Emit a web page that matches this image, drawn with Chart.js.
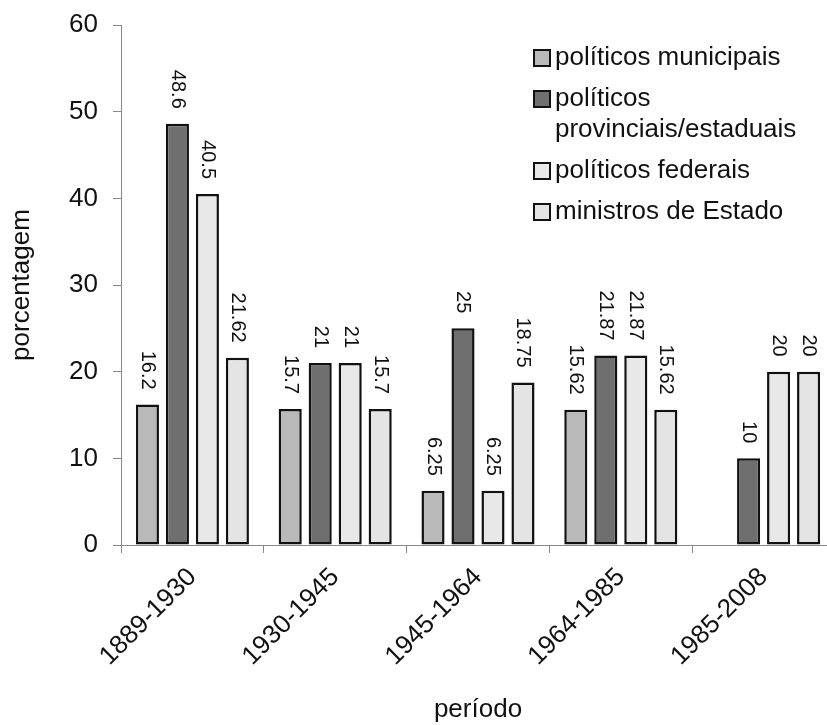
<!DOCTYPE html>
<html>
<head>
<meta charset="utf-8">
<script src="https://cdn.jsdelivr.net/npm/chart.js@4.4.1/dist/chart.umd.min.js"></script>
<style>
  html, body { margin: 0; padding: 0; background: #fff; overflow: hidden; }
  #wrap { width: 850px; height: 725px; }
</style>
</head>
<body>
<div id="wrap"><canvas id="chart" width="850" height="725"></canvas></div>
<script>
// periods on the x axis
const periods = ["1889-1930", "1930-1945", "1945-1964", "1964-1985", "1985-2008"];

// percentages per group of politicians (null = no bar)
const municipais = [16.2, 15.7, 6.25, 15.62, null];
const provinciais = [48.6, 21, 25, 21.87, 10];
const federais = [40.5, 21, 6.25, 21.87, 20];
const ministros = [21.62, 15.7, 18.75, 15.62, 20];

const seriesNames = ["políticos municipais", "políticos provinciais/estaduais", "políticos federais", "ministros de Estado"];
const seriesColors = ["#b9b9b9", "#6f6f6f", "#e8e8e8", "#e4e4e4"];
const yTicks = [0, 10, 20, 30, 40, 50, 60];

Chart.defaults.font.family = "'Liberation Sans', Arial, sans-serif";
Chart.defaults.color = "#000";

const mkSet = (i, data) => ({
  label: seriesNames[i], data, backgroundColor: seriesColors[i],
  borderColor: "#111", borderWidth: 2.5, borderSkipped: false,
  categoryPercentage: 0.84, barPercentage: 0.77
});

// value labels, rotated and read top to bottom
const valueLabels = {
  id: "valueLabels",
  afterDatasetsDraw(chart) {
    const ctx = chart.ctx;
    ctx.save();
    ctx.font = "20px 'Liberation Sans', Arial, sans-serif";
    ctx.fillStyle = "#111";
    ctx.textAlign = "right"; ctx.textBaseline = "middle";
    chart.data.datasets.forEach((ds, di) => {
      chart.getDatasetMeta(di).data.forEach((bar, i) => {
        const v = ds.data[i];
        if (v == null) return;
        ctx.save();
        ctx.translate(bar.x, bar.y - 15);
        ctx.rotate(Math.PI / 2);
        ctx.fillText(String(v), 0, 0);
        ctx.restore();
      });
    });
    ctx.restore();
  }
};

// legend in the upper right, long names wrapped
const boxLegend = {
  id: "boxLegend",
  afterDraw(chart) {
    const ctx = chart.ctx;
    ctx.save();
    ctx.font = "26px 'Liberation Sans', Arial, sans-serif";
    ctx.textAlign = "left"; ctx.textBaseline = "middle";
    let y = 58;
    chart.data.datasets.forEach(ds => {
      const words = ds.label.split(" "); const lines = []; let cur = "";
      words.forEach(w => {
        const t = cur ? cur + " " + w : w;
        if (cur && ctx.measureText(t).width > 268) { lines.push(cur); cur = w; } else cur = t;
      });
      lines.push(cur);
      ctx.fillStyle = ds.backgroundColor; ctx.strokeStyle = "#111"; ctx.lineWidth = 2;
      ctx.fillRect(534, y - 8, 16, 16); ctx.strokeRect(534, y - 8, 16, 16);
      ctx.fillStyle = "#111";
      lines.forEach((l, k) => ctx.fillText(l, 555, y + k * 31));
      y += lines.length * 31 + 10;
    });
    ctx.restore();
  }
};

new Chart(document.getElementById("chart"), {
  type: "bar",
  data: {
    labels: periods,
    datasets: [mkSet(0, municipais), mkSet(1, provinciais), mkSet(2, federais), mkSet(3, ministros)]
  },
  options: {
    responsive: false, animation: false,
    layout: { padding: { left: 0, top: 25, right: 15, bottom: 0 } },
    plugins: { legend: { display: false }, tooltip: { enabled: false } },
    scales: {
      x: {
        afterFit: s => { s.height = 180; },
        grid: { drawOnChartArea: false, tickLength: 8, color: "#888", offset: true },
        border: { color: "#888", width: 1 },
        ticks: { font: { size: 26 }, maxRotation: 45, minRotation: 45, padding: 9, color: "#111" },
        title: { display: true, text: "período", font: { size: 26 }, padding: { top: 0, bottom: 0 }, color: "#111" }
      },
      y: {
        min: 0, max: 60,
        afterFit: s => { s.width = 121; s.paddingTop = 0; s.paddingBottom = 0; },
        afterBuildTicks: s => { s.ticks = yTicks.map(v => ({ value: v })); },
        grid: { drawOnChartArea: false, tickLength: 8, color: "#888" },
        border: { color: "#888", width: 1 },
        ticks: { font: { size: 26 }, padding: 15, color: "#111" },
        title: { display: true, text: "porcentagem", font: { size: 26 }, padding: { top: 6, bottom: 0 }, color: "#111" }
      }
    }
  },
  plugins: [valueLabels, boxLegend]
});
</script>
</body>
</html>
